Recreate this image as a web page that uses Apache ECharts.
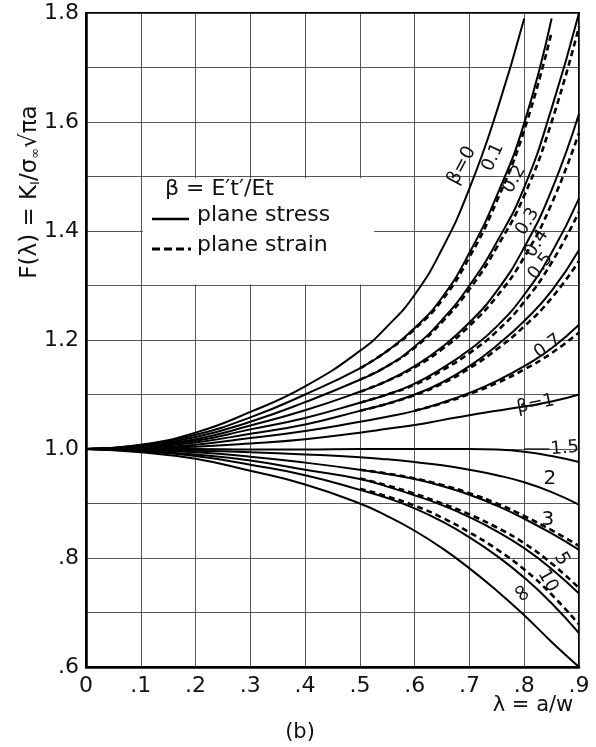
<!DOCTYPE html>
<html>
<head>
<meta charset="utf-8">
<script src="https://cdn.jsdelivr.net/npm/echarts@6/dist/echarts.min.js"></script>
<style>
html, body { margin: 0; padding: 0; background: #fff; }
#chart { width: 596px; height: 747px; }
</style>
</head>
<body>
<div id="chart"></div>
<script>
// lambda = a/w grid the curves were read at
var lam = [0, 0.1, 0.2, 0.3, 0.4, 0.5, 0.55, 0.6, 0.65, 0.7, 0.75, 0.8, 0.85, 0.9];

// plane stress (solid)
var s0   = [1.0, 1.008, 1.030, 1.068, 1.115, 1.180, 1.225, 1.283, 1.367, 1.478, 1.620, 1.790, null, null];
var s01  = [1.0, 1.007, 1.026, 1.058, 1.100, 1.148, 1.180, 1.222, 1.278, 1.360, 1.465, 1.598, 1.790, null];
var s02  = [1.0, 1.006, 1.022, 1.050, 1.086, 1.127, 1.152, 1.188, 1.237, 1.300, 1.380, 1.480, 1.625, 1.800];
var s03  = [1.0, 1.005, 1.018, 1.043, 1.071, 1.105, 1.125, 1.152, 1.187, 1.232, 1.290, 1.370, 1.475, 1.615];
var s04  = [1.0, 1.004, 1.015, 1.036, 1.057, 1.085, 1.100, 1.120, 1.148, 1.182, 1.225, 1.283, 1.360, 1.460];
var s05  = [1.0, 1.003, 1.012, 1.028, 1.045, 1.070, 1.083, 1.100, 1.122, 1.152, 1.190, 1.235, 1.290, 1.365];
var s07  = [1.0, 1.002, 1.008, 1.020, 1.033, 1.050, 1.059, 1.070, 1.085, 1.103, 1.125, 1.152, 1.185, 1.228];
var s1   = [1.0, 1.001, 1.004, 1.010, 1.018, 1.030, 1.037, 1.044, 1.053, 1.062, 1.070, 1.078, 1.087, 1.100];
var s15  = [1.0, 1.000, 1.000, 0.999, 0.999, 1.000, 1.000, 1.000, 1.000, 1.000, 0.999, 0.995, 0.987, 0.976];
var s2   = [1.0, 0.999, 0.997, 0.994, 0.990, 0.985, 0.981, 0.976, 0.970, 0.962, 0.952, 0.939, 0.921, 0.898];
var s3   = [1.0, 0.998, 0.994, 0.986, 0.975, 0.962, 0.954, 0.945, 0.932, 0.916, 0.896, 0.872, 0.845, 0.815];
var s5   = [1.0, 0.997, 0.990, 0.979, 0.962, 0.945, 0.931, 0.915, 0.897, 0.875, 0.849, 0.818, 0.780, 0.735];
var s10  = [1.0, 0.996, 0.987, 0.971, 0.952, 0.925, 0.910, 0.891, 0.867, 0.838, 0.804, 0.764, 0.717, 0.662];
var sInf = [1.0, 0.994, 0.982, 0.960, 0.935, 0.900, 0.877, 0.850, 0.818, 0.781, 0.740, 0.695, 0.646, 0.600];

// plane strain (dashed)
var d01 = [null, null, null, null, null, 1.148, 1.180, 1.220, 1.273, 1.352, 1.455, 1.585, 1.765, null];
var d02 = [null, null, null, null, null, 1.127, 1.152, 1.186, 1.233, 1.293, 1.370, 1.465, 1.600, 1.775];
var d03 = [null, null, null, null, null, 1.105, 1.125, 1.150, 1.183, 1.226, 1.280, 1.352, 1.450, 1.580];
var d04 = [null, null, null, null, null, 1.085, 1.100, 1.118, 1.144, 1.176, 1.216, 1.270, 1.342, 1.435];
var d05 = [null, null, null, null, null, 1.070, 1.083, 1.099, 1.120, 1.148, 1.183, 1.225, 1.277, 1.345];
var d07 = [null, null, null, null, null, null, null, 1.070, 1.084, 1.101, 1.121, 1.146, 1.176, 1.214];
var d3  = [null, null, null, null, null, 0.962, 0.955, 0.946, 0.934, 0.919, 0.900, 0.877, 0.851, 0.822];
var d5  = [null, null, null, null, null, 0.946, 0.933, 0.918, 0.900, 0.880, 0.856, 0.827, 0.790, 0.745];
var d10 = [null, null, null, null, null, 0.927, 0.913, 0.896, 0.874, 0.847, 0.816, 0.779, 0.733, 0.678];

var stressSeries = [s0, s01, s02, s03, s04, s05, s07, s1, s15, s2, s3, s5, s10, sInf];
var strainSeries = [d01, d02, d03, d04, d05, d07, d3, d5, d10];

var xTicks = ['0', '.1', '.2', '.3', '.4', '.5', '.6', '.7', '.8', '.9'];

// curve labels: text, lambda, F, rotation (deg), font size
var curveLabels = [
    ['β=0', 0.686, 1.52, 62, 19],
    ['0.1', 0.743, 1.535, 65, 18],
    ['0.2', 0.782, 1.495, 60, 18],
    ['0.3', 0.806, 1.417, 58, 18],
    ['0.4', 0.823, 1.377, 58, 18],
    ['0.5', 0.830, 1.335, 52, 18],
    ['0.7', 0.843, 1.188, 35, 18],
    ['β=1', 0.821, 1.082, 12, 18],
    ['1.5', 0.874, 1.001, 5, 18],
    ['2', 0.847, 0.945, 0, 20],
    ['3', 0.843, 0.871, 0, 20],
    ['5', 0.868, 0.798, -60, 19],
    ['10', 0.843, 0.758, -60, 18],
    ['∞', 0.794, 0.735, -55, 24]
];

var FONT = 'DejaVu Sans';

function toData(arr) {
    var out = [];
    for (var i = 0; i < lam.length; i++) {
        if (arr[i] != null) out.push([lam[i], arr[i]]);
    }
    return out;
}

var series = [];
stressSeries.forEach(function (arr) {
    series.push({
        type: 'line', data: toData(arr), smooth: 0.5, symbol: 'none', silent: true,
        lineStyle: { color: '#000', width: 2 }, z: 3
    });
});
strainSeries.forEach(function (arr) {
    series.push({
        type: 'line', data: toData(arr), smooth: 0.5, symbol: 'none', silent: true,
        lineStyle: { color: '#000', width: 2.6, type: [6, 4] }, z: 4
    });
});

var myChart = echarts.init(document.getElementById('chart'));
var option = {
    animation: false,
    backgroundColor: '#fff',
    grid: { left: 86, right: 17, top: 13, bottom: 80, show: true, borderColor: '#000', borderWidth: 2, backgroundColor: 'transparent' },
    xAxis: {
        type: 'value', min: 0, max: 0.9, interval: 0.1,
        axisLine: { show: true, lineStyle: { color: '#000', width: 2.5 } },
        axisTick: { show: false },
        splitLine: { show: true, lineStyle: { color: '#444', width: 0.9 } },
        axisLabel: {
            color: '#111', fontSize: 22, fontFamily: FONT, margin: 8,
            formatter: function (v) { return xTicks[Math.round(v * 10)]; }
        }
    },
    yAxis: {
        type: 'value', min: 0.6, max: 1.8, interval: 0.1,
        axisLine: { show: true, lineStyle: { color: '#000', width: 2.5 } },
        axisTick: { show: false },
        splitLine: { show: true, lineStyle: { color: '#444', width: 0.9 } },
        axisLabel: {
            color: '#111', fontSize: 22, fontFamily: FONT, margin: 7,
            formatter: function (v) {
                var k = Math.round(v * 10);
                if (k % 2) return '';
                return v >= 1 ? v.toFixed(1) : '.' + k;
            }
        }
    },
    series: series
};
myChart.setOption(option);

function px(x, y) {
    return myChart.convertToPixel({ gridIndex: 0 }, [x, y]);
}

var g = [];
// legend box
var b0 = px(0.104, 1.497), b1 = px(0.526, 1.302);
g.push({ type: 'rect', z: 50, shape: { x: b0[0], y: b0[1], width: b1[0] - b0[0], height: b1[1] - b0[1] }, style: { fill: '#fff' } });
g.push({ type: 'text', z: 51, x: 165, y: 189, style: { text: 'β = E′t′/Et', font: '22px "' + FONT + '"', fill: '#111', verticalAlign: 'middle' } });
g.push({ type: 'line', z: 51, shape: { x1: 152, y1: 219, x2: 189, y2: 219 }, style: { stroke: '#000', lineWidth: 2.5 } });
g.push({ type: 'text', z: 51, x: 197, y: 215, style: { text: 'plane stress', font: '22px "' + FONT + '"', fill: '#111', verticalAlign: 'middle' } });
g.push({ type: 'line', z: 51, shape: { x1: 152, y1: 249, x2: 191, y2: 249 }, style: { stroke: '#000', lineWidth: 3, lineDash: [8, 4] } });
g.push({ type: 'text', z: 51, x: 197, y: 245, style: { text: 'plane strain', font: '22px "' + FONT + '"', fill: '#111', verticalAlign: 'middle' } });

// y axis title
g.push({
    type: 'text', z: 51, x: 30, y: 192, rotation: Math.PI / 2,
    style: {
        text: 'F(λ) = K{s|I}/σ{s|∞}√πa', font: '23px "' + FONT + '"', fill: '#111',
        align: 'center', verticalAlign: 'middle',
        rich: { s: { fontSize: 13, fontFamily: FONT, padding: [11, 0, 0, 0] } }
    }
});
// x axis title and caption
g.push({ type: 'text', z: 51, x: 533, y: 706, style: { text: 'λ = a/w', font: '21px "' + FONT + '"', fill: '#111', align: 'center', verticalAlign: 'middle' } });
g.push({ type: 'text', z: 51, x: 300, y: 733, style: { text: '(b)', font: '21px "' + FONT + '"', fill: '#111', align: 'center', verticalAlign: 'middle' } });

// curve labels
curveLabels.forEach(function (c) {
    var p = px(c[1], c[2]);
    g.push({
        type: 'text', z: 52, x: p[0], y: p[1], rotation: c[3] * Math.PI / 180,
        style: { text: c[0], font: c[4] + 'px "' + FONT + '"', fill: '#111', align: 'center', verticalAlign: 'middle' }
    });
});
// leader line for the 1.5 label
var l0 = px(0.8, 1.0), l1 = px(0.846, 1.0);
g.push({ type: 'line', z: 51, shape: { x1: l0[0], y1: l0[1], x2: l1[0], y2: l1[1] }, style: { stroke: '#000', lineWidth: 1.2 } });

myChart.setOption({ graphic: g });
</script>
</body>
</html>
